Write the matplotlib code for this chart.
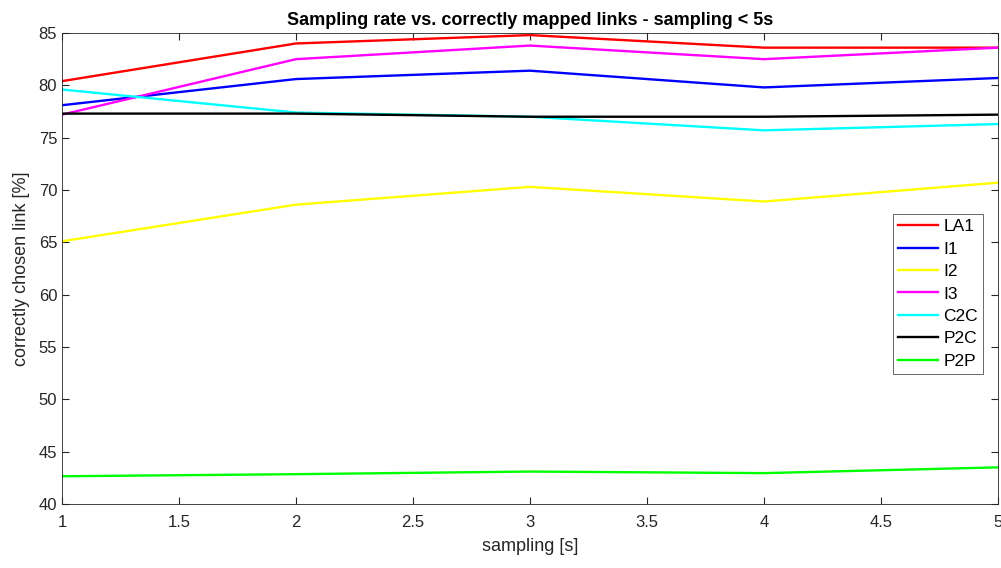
import matplotlib
matplotlib.use('Agg')
import matplotlib.pyplot as plt

plt.rcParams['font.family'] = ['Liberation Sans', 'DejaVu Sans']

# sampling [s]
sampling = [1, 2, 3, 4, 5]

# correctly chosen link [%]
la1 = [80.4, 84.0, 84.8, 83.6, 83.6]
i1 = [78.1, 80.6, 81.4, 79.8, 80.7]
i2 = [65.1, 68.6, 70.3, 68.9, 70.7]
i3 = [77.2, 82.5, 83.8, 82.5, 83.6]
c2c = [79.6, 77.4, 77.0, 75.7, 76.3]
p2c = [77.3, 77.3, 77.0, 77.0, 77.2]
p2p = [42.65, 42.85, 43.1, 42.95, 43.5]

series = [('LA1', la1, '#ff0000'), ('I1', i1, '#0000ff'), ('I2', i2, '#ffff00'),
          ('I3', i3, '#ff00ff'), ('C2C', c2c, '#00ffff'), ('P2C', p2c, '#000000'),
          ('P2P', p2p, '#00ff00')]

fig = plt.figure(figsize=(10.01, 5.68), dpi=100)
ax = fig.add_axes([62/1001, 1 - 504/568, (998-62)/1001, (504-33)/568])

for name, vals, col in series:
    ax.plot(sampling, vals, color=col, linewidth=1.7, label=name)

ax.set_xlim(1, 5)
ax.set_ylim(40, 85)
ax.set_xticks([1, 1.5, 2, 2.5, 3, 3.5, 4, 4.5, 5])
ax.set_xticklabels(['1', '1.5', '2', '2.5', '3', '3.5', '4', '4.5', '5'])
ax.set_yticks(range(40, 86, 5))
ax.tick_params(direction='in', top=True, right=True, labelsize=12, colors='#262626', length=5)
ax.tick_params(axis='x', pad=8)
for s in ax.spines.values():
    s.set_color('#262626')
    s.set_linewidth(0.6)

ax.set_xlabel('sampling [s]', fontsize=13, color='#262626', labelpad=6)
ax.set_ylabel('correctly chosen link [%]', fontsize=13, color='#262626', labelpad=6)
ax.set_title('Sampling rate vs. correctly mapped links - sampling < 5s', fontsize=13, fontweight='bold', pad=6)

leg = ax.legend(loc='upper right', bbox_to_anchor=(0.984, 0.616), fontsize=12.5, frameon=True,
                fancybox=False, edgecolor='#262626', handlelength=2.3, borderpad=0.3,
                labelspacing=0.42, handletextpad=0.3, borderaxespad=0)
leg.get_frame().set_linewidth(0.6)

fig.savefig('out.png', dpi=100)
